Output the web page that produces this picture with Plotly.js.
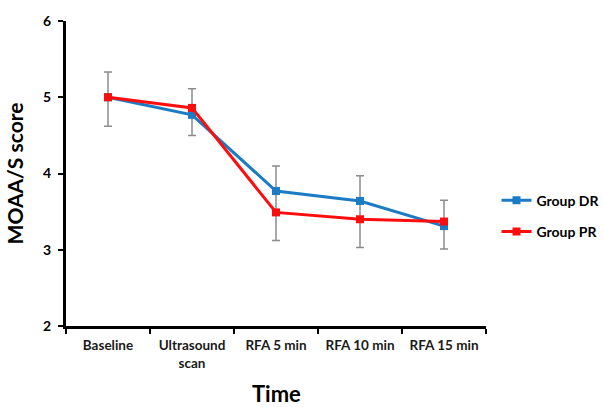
<!DOCTYPE html>
<html><head><meta charset="utf-8">
<script src="https://cdn.plot.ly/plotly-3.0.1.min.js"></script>
<style>html,body{margin:0;padding:0;background:#fff;}</style>
</head><body>
<div id="chart" style="width:603px;height:407px;"></div>
<script>
const categories = ["Baseline", "Ultrasound<br>scan", "RFA 5 min", "RFA 10 min", "RFA 15 min"];
const groupDR = [5.00, 4.77, 3.77, 3.64, 3.31];
const groupPR = [5.00, 4.86, 3.49, 3.40, 3.37];
const errTop = [5.33, 5.11, 4.10, 3.97, 3.65];
const errBottom = [4.62, 4.50, 3.12, 3.03, 3.01];
const errCenter = [4.975, 4.805, 3.61, 3.50, 3.33];
const xTitle = "Time";

const font = "Lato, 'Open Sans', Arial, sans-serif";

const traces = [
  {
    x: categories, y: errCenter, type: "scatter", mode: "markers",
    marker: {opacity: 0, size: 1}, showlegend: false, hoverinfo: "skip",
    error_y: {
      type: "data", symmetric: false,
      array: errTop.map((v, i) => v - errCenter[i]),
      arrayminus: errCenter.map((v, i) => v - errBottom[i]),
      color: "#8c8c8c", thickness: 1.5, width: 4
    }
  },
  {
    x: categories, y: groupDR, type: "scatter", mode: "lines+markers", name: "Group DR",
    legendgroup: "a",
    line: {color: "#1b7cc4", width: 3},
    marker: {symbol: "square", size: 8, color: "#1b7cc4"}
  },
  {
    x: categories, y: groupPR, type: "scatter", mode: "lines+markers", name: "Group PR",
    legendgroup: "b",
    line: {color: "#ff0d0d", width: 3},
    marker: {symbol: "square", size: 8, color: "#ff0d0d"}
  }
];

const layout = {
  width: 603, height: 407,
  margin: {l: 66, r: 117, t: 21, b: 81, autoexpand: false},
  paper_bgcolor: "#ffffff", plot_bgcolor: "#ffffff",
  font: {family: font, color: "#000", size: 14},
  xaxis: {
    type: "category", tickson: "boundaries",
    showline: true, linecolor: "#000", linewidth: 3,
    ticks: "outside", ticklen: 5, tickwidth: 2, tickcolor: "#000",
    ticklabelstandoff: 5, tickangle: 0,
    showgrid: false, zeroline: false,
    tickfont: {family: font, size: 13.5, color: "#1a1a1a", weight: "bold"},
    range: [-0.5, 4.5], automargin: false
  },
  yaxis: {
    range: [2, 6], dtick: 1, tick0: 2,
    showline: true, linecolor: "#000", linewidth: 3,
    ticks: "outside", ticklen: 5, tickwidth: 2, tickcolor: "#000",
    ticklabelstandoff: 4,
    showgrid: false, zeroline: false,
    tickfont: {family: font, size: 14, color: "#000", weight: "bold"},
    title: {text: "<b>MOAA/S score</b>", font: {family: font, size: 21, color: "#000"}, standoff: 14},
    automargin: false
  },
  annotations: [{
    text: "<b>" + xTitle + "</b>", xref: "paper", yref: "paper", x: 0.5, y: 0,
    xanchor: "center", yanchor: "top", yshift: -52, showarrow: false,
    font: {family: font, size: 22, color: "#000"}
  }],
  legend: {
    x: 1.025, y: 0.36, xanchor: "left", yanchor: "middle",
    font: {family: font, size: 14, color: "#000", weight: "bold"},
    itemwidth: 30, tracegroupgap: 10, bgcolor: "rgba(0,0,0,0)"
  },
  showlegend: true
};

Plotly.newPlot("chart", traces, layout, {displayModeBar: false, staticPlot: true});
</script>
</body></html>
